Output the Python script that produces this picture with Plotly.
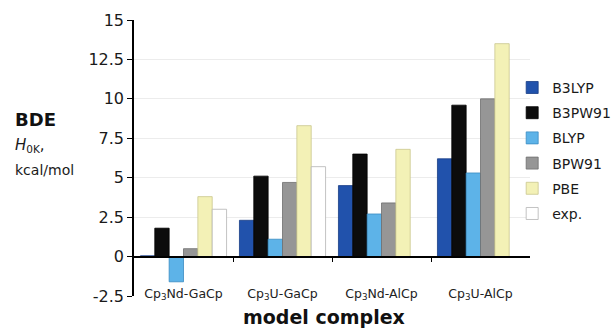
import plotly.graph_objects as go

# Bond dissociation enthalpies (kcal/mol) per model complex and method
complexes = ["Cp<sub>3</sub>Nd-GaCp", "Cp<sub>3</sub>U-GaCp",
             "Cp<sub>3</sub>Nd-AlCp", "Cp<sub>3</sub>U-AlCp"]
b3lyp = [0.05, 2.3, 4.5, 6.2]
b3pw91 = [1.8, 5.1, 6.5, 9.6]
blyp = [-1.6, 1.1, 2.7, 5.3]
bpw91 = [0.5, 4.7, 3.4, 10.0]
pbe = [3.8, 8.3, 6.8, 13.5]
exp_vals = [3.0, 5.7, None, None]

y_ticks = [-2.5, 0, 2.5, 5, 7.5, 10, 12.5, 15]
y_tick_text = ["-2.5", "0", "2.5", "5", "7.5", "10", "12.5", "15"]

series = [
    ("B3LYP", b3lyp, "#2152ac", "#183c85"),
    ("B3PW91", b3pw91, "#0c0c0c", "#000000"),
    ("BLYP", blyp, "#5db3e8", "#3a8cc2"),
    ("BPW91", bpw91, "#969696", "#6e6e6e"),
    ("PBE", pbe, "#f3f1b6", "#c9c78e"),
    ("exp.", exp_vals, "#ffffff", "#b4b4b4"),
]

FONT = "DejaVu Sans, Arial, sans-serif"
y_min, y_max = -2.5, 15
x_pos = list(range(len(complexes)))

fig = go.Figure()
for name, vals, fill, edge in series:
    fig.add_trace(go.Bar(
        x=x_pos, y=vals, name=name,
        marker=dict(color=fill, line=dict(color=edge, width=0.8)),
        legendgroup=name,
    ))

# helper trace so the zero-crossing category axis gets drawn
fig.add_trace(go.Scatter(x=[0], y=[None], xaxis="x2", showlegend=False,
                         hoverinfo="skip", mode="markers"))

zero_pos = (0 - y_min) / (y_max - y_min)

fig.update_layout(
    width=616, height=330,
    margin=dict(l=134, r=86, t=20, b=34, autoexpand=False),
    paper_bgcolor="white", plot_bgcolor="white",
    barmode="group", bargap=0.13, bargroupgap=0,
    font=dict(family=FONT, color="#1a1a1a"),
    showlegend=True,
    legend=dict(x=0.955, xanchor="left", y=0.812, yanchor="top",
                font=dict(size=14, family=FONT, color="#1a1a1a"),
                itemwidth=30, tracegroupgap=4, bgcolor="rgba(0,0,0,0)"),
    xaxis=dict(
        range=[-0.5, len(complexes) - 0.5],
        tickvals=x_pos, ticktext=complexes,
        tickfont=dict(size=12.5, family=FONT, color="#222222"),
        showgrid=False, showline=False, ticks="", zeroline=False,
        anchor="free", position=0.043,
    ),
    xaxis2=dict(
        overlaying="x", matches="x", anchor="free", position=zero_pos,
        range=[-0.5, len(complexes) - 0.5],
        tickvals=[0.5, 1.5, 2.5], showticklabels=False,
        ticks="outside", ticklen=5, tickwidth=1.3, tickcolor="#000000",
        showline=True, linecolor="#000000", linewidth=1.5,
        showgrid=False, zeroline=False,
    ),
    yaxis=dict(
        range=[y_min, y_max], tickvals=y_ticks, ticktext=y_tick_text,
        tickfont=dict(size=16, family=FONT, color="#1a1a1a"),
        ticks="outside", ticklen=5, tickwidth=1.3, tickcolor="#000000",
        showline=True, linecolor="#000000", linewidth=1.5,
        showgrid=True, gridcolor="#ececec", gridwidth=1,
        zeroline=False,
    ),
)

# axis titles
fig.add_annotation(text="<b>model complex</b>", xref="paper", yref="paper",
                   x=0.48, y=-0.075, xanchor="center", yanchor="middle",
                   showarrow=False, font=dict(size=19, family=FONT, color="#111111"))
fig.add_annotation(text="<b>BDE</b>", xref="paper", yref="paper",
                   x=-0.305, y=0.64, xanchor="left", yanchor="middle",
                   showarrow=False, font=dict(size=18, family=FONT, color="#111111"))
fig.add_annotation(text="<i>H</i><sub>0K</sub>,", xref="paper", yref="paper",
                   x=-0.305, y=0.545, xanchor="left", yanchor="middle",
                   showarrow=False, font=dict(size=15, family=FONT, color="#1a1a1a"))
fig.add_annotation(text="kcal/mol", xref="paper", yref="paper",
                   x=-0.305, y=0.455, xanchor="left", yanchor="middle",
                   showarrow=False, font=dict(size=14, family=FONT, color="#1a1a1a"))

fig.write_html("out.html")
